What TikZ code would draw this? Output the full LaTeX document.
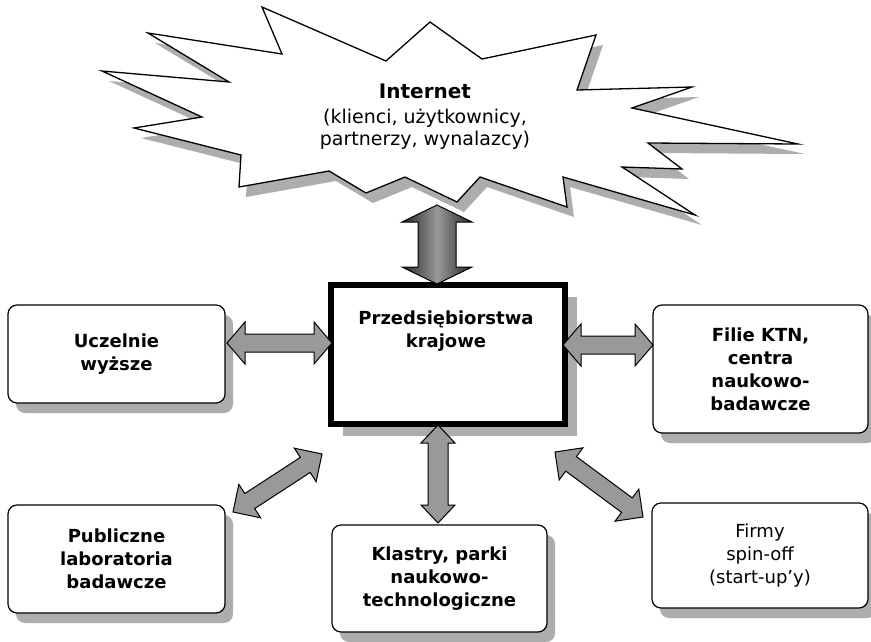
\documentclass[tikz,border=0pt]{standalone}
\usepackage{fontspec}
\setmainfont{DejaVu Sans}
\usetikzlibrary{calc,shadows}
\definecolor{shadowgray}{HTML}{ADADAD}
\definecolor{arrowgray}{HTML}{999999}
\newcommand\starshape[1]{%
  \path[#1] (148,33) -- (282,54) -- (262,7) -- (386,61) -- (430,22) -- (482,59)
   -- (596,35) -- (577,90) -- (692,87) -- (632,108) -- (798,144) -- (648,143)
   -- (682,169) -- (622,167) -- (695,215) -- (563,177) -- (567,207) -- (480,177)
   -- (457,202) -- (405,177) -- (366,193) -- (329,171) -- (239,187) -- (241,155)
   -- (134,128) -- (202,117) -- (102,71) -- (229,82) -- cycle;}
\newcommand\barrow[6]{%
  \path[#1] (#2)
    -- ($(#2)!#4!(#3)!#5!90:(#3)$)
    -- ($(#2)!#4!(#3)!#6!90:(#3)$)
    -- ($(#3)!#4!(#2)!#6!270:(#2)$)
    -- ($(#3)!#4!(#2)!#5!270:(#2)$)
    -- (#3)
    -- ($(#3)!#4!(#2)!#5!90:(#2)$)
    -- ($(#3)!#4!(#2)!#6!90:(#2)$)
    -- ($(#2)!#4!(#3)!#6!270:(#3)$)
    -- ($(#2)!#4!(#3)!#5!270:(#3)$)
    -- cycle;}
\tikzset{
  boxfont/.style={font=\fontsize{18}{23}\selectfont\bfseries},
  box/.style={draw=black, line width=1.2pt, rounded corners=9pt, fill=white,
    align=center, inner sep=0pt, boxfont,
    drop shadow={shadow xshift=8pt, shadow yshift=-10pt, fill=shadowgray, opacity=1}},
  garrow/.style={fill=arrowgray, draw=black, line width=1pt, line join=miter},
}
\begin{document}
\begin{tikzpicture}[x=1pt,y=-1pt]
\useasboundingbox[fill=white] (0,0) rectangle (871,641);
% cloud / star
\starshape{fill=shadowgray, shift={(7,10)}}
\starshape{fill=white, draw=black, line width=1.3pt, line join=miter}
\node[font=\fontsize{19}{22}\selectfont, align=center] (inet) at (425,117)
  {{\bfseries\fontsize{20}{24}\selectfont Internet}\\[3pt](klienci, użytkownicy,\\partnerzy, wynalazcy)};
% central box
\node[draw=black, line width=6pt, fill=white, minimum width=234pt, minimum height=139pt,
  inner sep=0pt, drop shadow={shadow xshift=12pt, shadow yshift=-12pt, fill=shadowgray, opacity=1}]
  (prz) at (448,354.5) {};
\node[boxfont, align=center] (prztxt) at (446,331) {Przedsiębiorstwa\\krajowe};
% outer boxes
\node[box, minimum width=217pt, minimum height=98pt] (ucz) at (116.5,354) {Uczelnie\\wyższe};
\node[box, minimum width=215pt, minimum height=128pt] (fil) at (760.5,369) {Filie KTN,\\centra\\naukowo-\\badawcze};
\node[box, minimum width=217pt, minimum height=108pt] (pub) at (116.5,559) {Publiczne\\laboratoria\\badawcze};
\node[box, minimum width=215pt, minimum height=107pt] (kla) at (439.5,578.5) {Klastry, parki\\naukowo-\\technologiczne};
\node[box, minimum width=216pt, minimum height=105pt, font=\fontsize{18}{23}\selectfont] (fir) at (760,555.5) {Firmy\\spin-off\\(start-up’y)};
% arrow end points
\coordinate (t1) at (437,205);
\coordinate (t2) at (437,284);
\coordinate (l1) at (227,343);
\coordinate (l2) at (332,343);
\coordinate (r1) at (563,345);
\coordinate (r2) at (653,345);
\coordinate (b1) at (438,425);
\coordinate (b2) at (438,523);
\coordinate (d1) at (233,512);
\coordinate (d2) at (322,454);
\coordinate (e1) at (555,452);
\coordinate (e2) at (643,517);
% arrows
\barrow{shade, left color=black!85, right color=black!85, middle color=black!40, draw=black, line width=1pt, line join=miter}{t1}{t2}{17pt}{35pt}{19pt}
\barrow{garrow}{l1}{l2}{18pt}{21pt}{9pt}
\barrow{garrow}{r1}{r2}{18pt}{21pt}{9pt}
\barrow{garrow}{b1}{b2}{18pt}{17pt}{10pt}
\barrow{garrow}{d1}{d2}{20pt}{20pt}{9pt}
\barrow{garrow}{e1}{e2}{20pt}{20pt}{9pt}
\end{tikzpicture}
\end{document}
